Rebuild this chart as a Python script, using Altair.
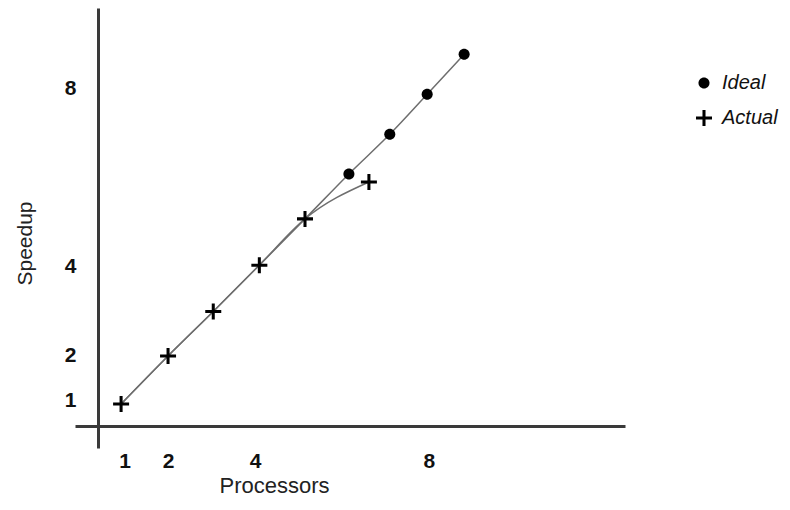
import altair as alt
import pandas as pd

# ---- data ----
ideal_x = [0.92, 2.0, 3.04, 4.1, 5.15, 6.16, 7.1, 7.96, 8.81]
ideal_y = [0.92, 2.0, 3.0, 4.04, 5.08, 6.09, 6.98, 7.88, 8.78]
ideal_marked = [False, False, False, False, False, True, True, True, True]
actual_x = [0.92, 2.0, 3.04, 4.1, 5.15, 6.62]
actual_y = [0.92, 2.0, 3.0, 4.04, 5.08, 5.91]
tick_values = [1, 2, 4, 8]
series_names = ["Ideal", "Actual"]

FONT = "Liberation Sans"

line_df = pd.DataFrame({
    "x": ideal_x + actual_x,
    "y": ideal_y + actual_y,
    "series": ["Ideal"] * len(ideal_x) + ["Actual"] * len(actual_x),
    "order": list(range(len(ideal_x))) + list(range(len(actual_x))),
})

pt_rows = []
for xv, yv, m in zip(ideal_x, ideal_y, ideal_marked):
    if m:
        pt_rows.append({"x": xv, "y": yv, "series": "Ideal"})
for xv, yv in zip(actual_x, actual_y):
    pt_rows.append({"x": xv, "y": yv, "series": "Actual"})
pt_df = pd.DataFrame(pt_rows)

circle_path = "M-0.69,0A0.69,0.69 0 1,0 0.69,0A0.69,0.69 0 1,0 -0.69,0Z"
plus_path = "M-1,-0.19H-0.19V-1H0.19V-0.19H1V0.19H0.19V1H-0.19V0.19H-1Z"

xs = alt.Scale(domain=[-0.14, 12.51], nice=False, zero=False)
ys = alt.Scale(domain=[-0.07, 9.82], nice=False, zero=False)

x_axis = alt.Axis(values=tick_values, title="Processors", grid=False, ticks=False,
                  offset=-22, labelPadding=24, labelFontWeight="bold",
                  labelFontSize=21, labelFont=FONT, labelColor="#111",
                  titleFont=FONT, titleFontSize=22, titleFontWeight="normal",
                  titleColor="#222", titleX=199, titleY=66,
                  titleAlign="center", titleBaseline="alphabetic",
                  domainColor="#3a3a3a", domainWidth=3)
y_axis = alt.Axis(values=tick_values, title="Speedup", grid=False, ticks=False,
                  offset=-23, labelPadding=22, labelFontWeight="bold",
                  labelFontSize=21, labelFont=FONT, labelColor="#111",
                  titleFont=FONT, titleFontSize=21, titleFontWeight="normal",
                  titleColor="#222", titleX=-67, titleY=235, titleAngle=270,
                  titleAlign="center", titleBaseline="alphabetic",
                  domainColor="#3a3a3a", domainWidth=3)

lines = alt.Chart(line_df).mark_line(color="#6e6e6e", strokeWidth=1.5,
                                     interpolate="monotone").encode(
    x=alt.X("x:Q", scale=xs, axis=x_axis),
    y=alt.Y("y:Q", scale=ys, axis=y_axis),
    detail="series:N",
    order="order:Q",
)

points = alt.Chart(pt_df).mark_point(filled=True, color="black", opacity=1,
                                     size=256, strokeWidth=0).encode(
    x=alt.X("x:Q", scale=xs),
    y=alt.Y("y:Q", scale=ys),
    shape=alt.Shape("series:N",
                    scale=alt.Scale(domain=series_names,
                                    range=[circle_path, plus_path]),
                    legend=alt.Legend(title=None, orient="none",
                                      legendX=619, legendY=65,
                                      padding=0, rowPadding=15,
                                      labelOffset=8, labelFont=FONT,
                                      labelFontSize=20, labelFontStyle="italic",
                                      labelColor="#111",
                                      symbolSize=256, symbolFillColor="black",
                                      symbolStrokeWidth=0, symbolOpacity=1)),
)

chart = (lines + points).properties(
    width=550, height=440,
    background="white",
    autosize=alt.AutoSizeParams(type="none"),
    padding={"left": 67, "top": 0, "right": 157, "bottom": 48},
).configure_view(stroke=None)

chart.save("out.html", embed_options={"renderer": "svg", "actions": False})
